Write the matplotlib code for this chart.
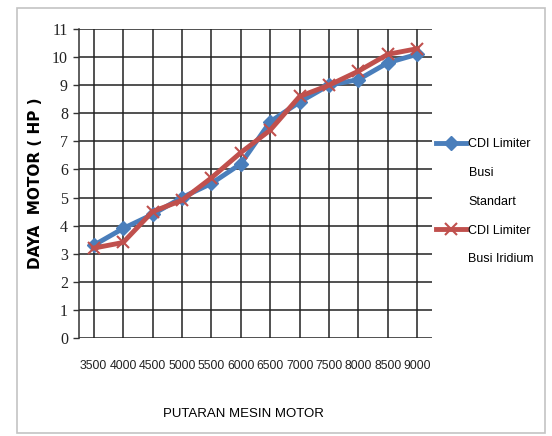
import numpy as np
import matplotlib.pyplot as plt
from matplotlib.lines import Line2D
from matplotlib.patches import Rectangle

putaran = ['3500', '4000', '4500', '5000', '5500', '6000',
           '6500', '7000', '7500', '8000', '8500', '9000']
standart = [3.3, 3.9, 4.4, 5.0, 5.5, 6.2, 7.7, 8.4, 9.0, 9.2, 9.8, 10.1]
iridium = [3.2, 3.4, 4.5, 4.9, 5.7, 6.6, 7.4, 8.6, 9.0, 9.5, 10.1, 10.3]
yticks = list(range(0, 12))

fig = plt.figure(figsize=(5.52, 4.36), dpi=100)
fig.patches.append(Rectangle((17 / 552, 3 / 436), 528 / 552, 425 / 436,
                             transform=fig.transFigure, fill=False,
                             edgecolor='#c4c4c4', linewidth=1.2))
ax = fig.add_axes([79 / 552, 1 - 338 / 436, 353 / 552, 309 / 436])

x = np.arange(len(putaran))
ax.plot(x, standart, color='#4a7ebb', linewidth=3.5, marker='D',
        markersize=7, label='CDI Limiter', zorder=3)
ax.plot(x, iridium, color='#c0504d', linewidth=3.5, marker='x',
        markersize=8, markeredgewidth=1.5, label='CDI Limiter', zorder=4)

ax.set_xlim(-0.5, len(putaran) - 0.5)
ax.set_ylim(0, 11)
ax.set_yticks(yticks)
ax.set_xticks(x)
ax.set_xticklabels(putaran, family='Liberation Sans', fontsize=8.8,
                   color='#222222')
ax.set_yticklabels([str(v) for v in yticks], family='Liberation Serif',
                   fontsize=11.5, color='#222222')
ax.tick_params(axis='y', length=4, width=1, color='#333333', pad=4)
ax.tick_params(axis='x', length=0, pad=16)
ax.grid(True, color='#222222', linewidth=1.1)
ax.set_axisbelow(True)
for s in ['top', 'right', 'bottom']:
    ax.spines[s].set_visible(False)
ax.spines['left'].set_color('#333333')
ax.spines['left'].set_linewidth(1.1)

ax.set_ylabel('DAYA  MOTOR ( HP )', fontsize=11, fontweight='bold',
              family='DejaVu Sans')
ax.yaxis.set_label_coords(-0.102, 0.5)
ax.set_xlabel('PUTARAN MESIN MOTOR', family='Liberation Sans', fontsize=9.5)
ax.xaxis.set_label_coords((243 - 79) / 353, -70 / 309)

h = ax.get_legend_handles_labels()[0]
blank = Line2D([], [], linestyle='none')
handles = [h[0], blank, blank, h[1], blank]
labels = ['CDI Limiter', 'Busi', 'Standart', 'CDI Limiter', 'Busi Iridium']
fig.legend(handles, labels, loc='upper left',
           bbox_to_anchor=(436 / 552, 1 - 138 / 436), frameon=False,
           handlelength=2.4, handletextpad=0.2,
           labelspacing=1.35, borderpad=0, borderaxespad=0,
           prop={'family': 'Liberation Sans', 'size': 9})

fig.savefig('out.png', dpi=100)
